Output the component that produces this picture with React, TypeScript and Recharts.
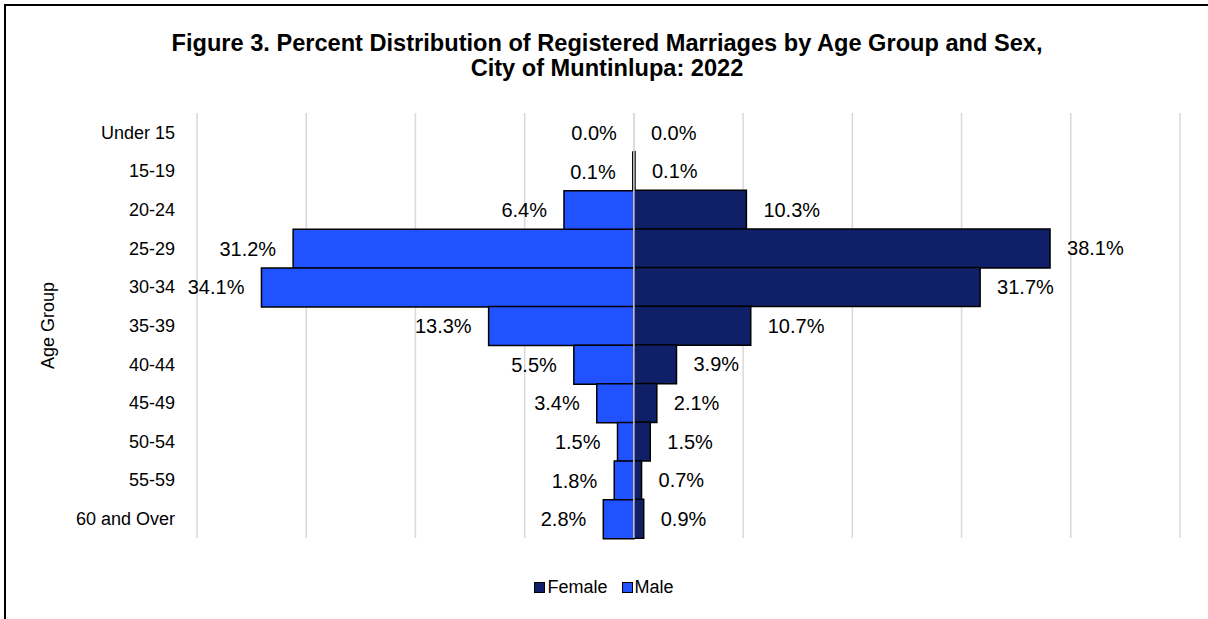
import React from "react";
import { BarChart, Bar, XAxis, YAxis, CartesianGrid, ReferenceLine, Legend, LabelList, Cell } from "recharts";

const ageGroups = [
  "Under 15",
  "15-19",
  "20-24",
  "25-29",
  "30-34",
  "35-39",
  "40-44",
  "45-49",
  "50-54",
  "55-59",
  "60 and Over",
];
const maleValues = [0.0, 0.1, 6.4, 31.2, 34.1, 13.3, 5.5, 3.4, 1.5, 1.8, 2.8];
const femaleValues = [0.0, 0.1, 10.3, 38.1, 31.7, 10.7, 3.9, 2.1, 1.5, 0.7, 0.9];
const xTicks = [-40, -30, -20, -10, 0, 10, 20, 30, 40, 50];

const MALE = "#2152FF";
const FEMALE = "#0F2068";
const FONT = '"Liberation Sans", Arial, sans-serif';

// male is drawn to the left, so it is kept negative for the scale
const data = ageGroups.map((g, i) => ({
  group: g,
  Female: femaleValues[i],
  Male: -maleValues[i],
}));

const fmt = (v: number) => `${Math.abs(v).toFixed(1)}%`;

// recharts drops labels of zero-width bars, so keep a hairline bar for zeros (no stroke)
const zeroMin = (v: number) => (Number(v) === 0 ? 0.01 : 0);

// eslint-disable-next-line @typescript-eslint/no-explicit-any
const maleLabel = (p: any) => {
  const x = Number(p.x);
  const w = Number(p.width) || 0;
  const left = Math.min(x, x + w);
  return (
    <text x={left - 17} y={Number(p.y) + Number(p.height) / 2} textAnchor="end" dominantBaseline="central"
      fontSize={20} fontFamily={FONT} fill="#000">
      {fmt(Number(p.value))}
    </text>
  );
};

// eslint-disable-next-line @typescript-eslint/no-explicit-any
const femaleLabel = (p: any) => {
  const x = Number(p.x);
  const w = Number(p.width) || 0;
  const right = Math.max(x, x + w);
  return (
    <text x={right + 17} y={Number(p.y) + Number(p.height) / 2} textAnchor="start" dominantBaseline="central"
      fontSize={20} fontFamily={FONT} fill="#000">
      {fmt(Number(p.value))}
    </text>
  );
};

// eslint-disable-next-line @typescript-eslint/no-explicit-any
const legendContent = (props: any) => {
  const items = props.payload || [];
  return (
    <div style={{ display: "flex", justifyContent: "center", gap: 14, fontFamily: FONT, fontSize: 18, color: "#000" }}>
      {items.map((it: any) => (
        <div key={it.value} style={{ display: "flex", alignItems: "center" }}>
          <span style={{ width: 9, height: 9, background: it.color, border: "1.5px solid #000", marginRight: 2 }} />
          <span>{it.value}</span>
        </div>
      ))}
    </div>
  );
};

export default function App() {
  return (
    <div style={{ position: "relative", width: 1208, height: 619, background: "#fff", overflow: "hidden" }}>
      <style>{"body{margin:0}"}</style>
      <div
        style={{
          position: "absolute",
          top: 31,
          left: 0,
          width: 1214,
          textAlign: "center",
          fontFamily: FONT,
          fontWeight: "bold",
          fontSize: 23.6,
          lineHeight: "25px",
          color: "#000",
        }}
      >
        Figure 3. Percent Distribution of Registered Marriages by Age Group and Sex,
        <br />
        City of Muntinlupa: 2022
      </div>
      <div style={{ position: "absolute", top: 0, left: 0 }}>
        <BarChart
          width={1208}
          height={619}
          data={data}
          layout="vertical"
          barCategoryGap={0}
          barGap="-100%"
          margin={{ top: 113, right: 28, bottom: 57, left: 0 }}
        >
          <CartesianGrid horizontal={false} stroke="#D9D9D9" strokeWidth={1.5} />
          <XAxis type="number" domain={[-40, 50]} ticks={xTicks} hide allowDataOverflow />
          <YAxis
            type="category"
            dataKey="group"
            width={197}
            axisLine={false}
            tickLine={false}
            tickSize={0}
            tickMargin={22}
            interval={0}
            tick={{ fill: "#000", fontSize: 18, fontFamily: FONT }}
            label={{
              value: "Age Group",
              angle: -90,
              position: "insideLeft",
              offset: 48,
              style: { fill: "#000", fontSize: 18, fontFamily: FONT, textAnchor: "middle" },
            }}
          />
          <Legend
            verticalAlign="bottom"
            content={legendContent}
            wrapperStyle={{ top: 577, left: 0, width: 1208, height: 24 }}
          />
          <Bar dataKey="Female" fill={FEMALE} stroke="#000" strokeWidth={1.5} minPointSize={zeroMin}
            isAnimationActive={false}>
            {data.map((d) => (
              <Cell key={d.group} stroke={d.Female === 0 ? "none" : "#000"} />
            ))}
            <LabelList dataKey="Female" content={femaleLabel} />
          </Bar>
          <Bar dataKey="Male" fill={MALE} stroke="#000" strokeWidth={1.5} minPointSize={zeroMin}
            isAnimationActive={false}>
            {data.map((d) => (
              <Cell key={d.group} stroke={d.Male === 0 ? "none" : "#000"} />
            ))}
            <LabelList dataKey="Male" content={maleLabel} />
          </Bar>
          <ReferenceLine x={0} stroke="#D9D9D9" strokeWidth={1.5} />
        </BarChart>
      </div>
      <div
        style={{
          position: "absolute",
          top: 4,
          left: 4,
          width: 1220,
          height: 640,
          borderLeft: "2px solid #000",
          borderTop: "2px solid #000",
          pointerEvents: "none",
        }}
      />
    </div>
  );
}
